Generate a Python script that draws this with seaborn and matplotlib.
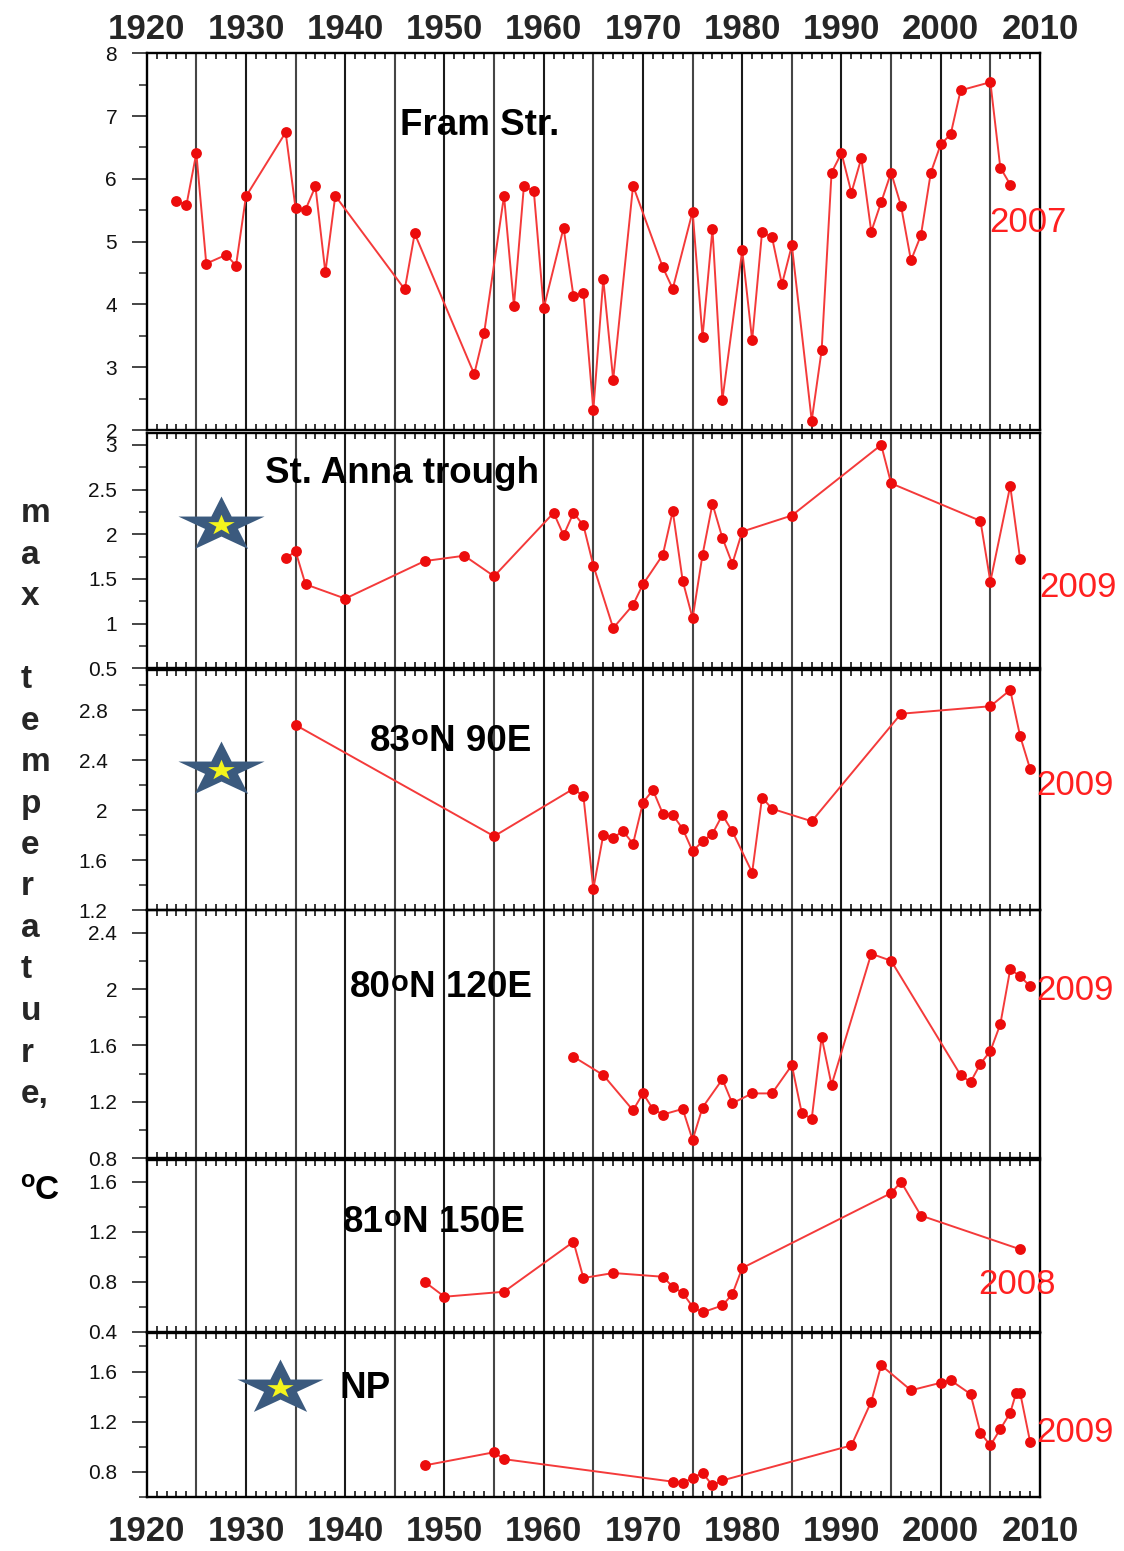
import matplotlib
matplotlib.use("Agg")
import matplotlib.pyplot as plt
from matplotlib.path import Path
from matplotlib.ticker import MultipleLocator, FixedLocator, FuncFormatter
import seaborn as sns

# ---- data: maximum Atlantic-water temperature (deg C) by year ----
fram_years = [1923, 1924, 1925, 1926, 1928, 1929, 1930, 1934, 1935, 1936, 1937, 1938, 1939,
              1946, 1947, 1953, 1954, 1956, 1957, 1958, 1959, 1960, 1962, 1963, 1964, 1965,
              1966, 1967, 1969, 1972, 1973, 1975, 1976, 1977, 1978, 1980, 1981, 1982, 1983,
              1984, 1985, 1987, 1988, 1989, 1990, 1991, 1992, 1993, 1994, 1995, 1996, 1997,
              1998, 1999, 2000, 2001, 2002, 2005, 2006, 2007]
fram_temp = [5.65, 5.58, 6.41, 4.65, 4.79, 4.62, 5.72, 6.74, 5.53, 5.51, 5.88, 4.51, 5.73,
             4.24, 5.13, 2.89, 3.55, 5.73, 3.98, 5.88, 5.81, 3.94, 5.22, 4.13, 4.19, 2.32,
             4.40, 2.80, 5.89, 4.59, 4.25, 5.48, 3.48, 5.20, 2.48, 4.86, 3.43, 5.16, 5.07,
             4.32, 4.94, 2.15, 3.27, 6.10, 6.41, 5.78, 6.33, 5.16, 5.63, 6.10, 5.57, 4.70,
             5.10, 6.10, 6.55, 6.71, 7.41, 7.54, 6.18, 5.91]

anna_years = [1934, 1935, 1936, 1940, 1948, 1952, 1955, 1961, 1962, 1963, 1964, 1965, 1967,
              1969, 1970, 1972, 1973, 1974, 1975, 1976, 1977, 1978, 1979, 1980, 1985, 1994,
              1995, 2004, 2005, 2007, 2008]
anna_temp = [1.73, 1.81, 1.44, 1.28, 1.70, 1.76, 1.53, 2.24, 1.99, 2.24, 2.10, 1.65, 0.95,
             1.21, 1.44, 1.77, 2.26, 1.48, 1.06, 1.77, 2.34, 1.96, 1.67, 2.03, 2.21, 3.00,
             2.57, 2.15, 1.47, 2.54, 1.72]

n83_years = [1935, 1955, 1963, 1964, 1965, 1966, 1967, 1968, 1969, 1970, 1971, 1972, 1973,
             1974, 1975, 1976, 1977, 1978, 1979, 1981, 1982, 1983, 1987, 1996, 2005, 2007,
             2008, 2009]
n83_temp = [2.68, 1.79, 2.17, 2.11, 1.37, 1.80, 1.78, 1.83, 1.73, 2.06, 2.16, 1.97, 1.96,
            1.85, 1.67, 1.75, 1.81, 1.96, 1.83, 1.50, 2.10, 2.01, 1.91, 2.77, 2.83, 2.96,
            2.59, 2.33]

n80_years = [1963, 1966, 1969, 1970, 1971, 1972, 1974, 1975, 1976, 1978, 1979, 1981, 1983,
             1985, 1986, 1987, 1988, 1989, 1993, 1995, 2002, 2003, 2004, 2005, 2006, 2007,
             2008, 2009]
n80_temp = [1.52, 1.39, 1.14, 1.26, 1.15, 1.11, 1.15, 0.93, 1.16, 1.36, 1.19, 1.26, 1.26,
            1.46, 1.12, 1.08, 1.66, 1.32, 2.25, 2.20, 1.39, 1.34, 1.47, 1.56, 1.75, 2.14,
            2.09, 2.02]

n81_years = [1948, 1950, 1956, 1963, 1964, 1967, 1972, 1973, 1974, 1975, 1976, 1978, 1979,
             1980, 1995, 1996, 1998, 2008]
n81_temp = [0.80, 0.68, 0.72, 1.12, 0.83, 0.87, 0.84, 0.76, 0.71, 0.60, 0.555, 0.61, 0.70,
            0.91, 1.51, 1.60, 1.33, 1.06]

np_years = [1948, 1955, 1956, 1973, 1974, 1975, 1976, 1977, 1978, 1991, 1993, 1994, 1997,
            2000, 2001, 2003, 2004, 2005, 2006, 2007, 2007.6, 2008, 2009]
np_temp = [0.85, 0.955, 0.90, 0.72, 0.71, 0.75, 0.79, 0.69, 0.73, 1.01, 1.36, 1.65, 1.45,
           1.51, 1.53, 1.42, 1.11, 1.01, 1.14, 1.27, 1.43, 1.43, 1.04]

decade_labels = list(range(1920, 2011, 10))
last_year_labels = ["2007", "2009", "2009", "2009", "2008", "2009"]

# ---- styling ----
sns.set_style("white")
plt.rcParams["font.family"] = ["Liberation Sans", "DejaVu Sans"]

W, H = 1124, 1551
fig = plt.figure(figsize=(W / 100, H / 100), dpi=100)
fig.patch.set_facecolor("white")
renderer = fig.canvas.get_renderer()

LINE_RED = "#f43a3a"
DOT_RED = "#ec0c0c"
TXT_RED = "#ff2020"
STAR_BLUE = "#3b5a7e"
STAR_YELLOW = "#f4f41c"

X0, X1 = 146.7, 1040.0


def fx(px):
    return px / W


def fy(py):
    return 1 - py / H


# flattened five-pointed star used as a station symbol
_base = Path.unit_regular_star(5, 0.381966)
_v = _base.vertices.copy()
_v[:, 1] *= 0.64
star_outer = Path(_v, _base.codes)
_v2 = _base.vertices.copy()
_v2[:, 1] *= 0.78
star_inner = Path(_v2, _base.codes)

# panel specs: (years, temps, top px, bottom px, ylim, major ticks, minor step, label pad)
panels = [
    (fram_years, fram_temp, 53.3, 430.0, (2, 8), [2, 3, 4, 5, 6, 7, 8], 0.5, 10.5),
    (anna_years, anna_temp, 433.3, 668.3, (0.5, 3.13), [0.5, 1, 1.5, 2, 2.5, 3], 0.25, 10.5),
    (n83_years, n83_temp, 670.0, 910.0, (1.2, 3.12), [1.2, 1.6, 2.0, 2.4, 2.8], 0.2, 17.5),
    (n80_years, n80_temp, 910.0, 1158.3, (0.8, 2.56), [0.8, 1.2, 1.6, 2.0, 2.4], 0.2, 10.5),
    (n81_years, n81_temp, 1160.0, 1331.7, (0.4, 1.775), [0.4, 0.8, 1.2, 1.6], 0.2, 10.5),
    (np_years, np_temp, 1332.7, 1496.7, (0.6, 1.91), [0.8, 1.2, 1.6], 0.2, 10.5),
]

axes = []
for i, (yrs, temps, top, bot, ylim, majors, mstep, pad) in enumerate(panels):
    ax = fig.add_axes([fx(X0), fy(bot), fx(X1 - X0), (bot - top) / H])
    axes.append(ax)
    ax.set_facecolor("none")

    # vertical reference lines every five years
    for yr in range(1925, 2010, 5):
        ax.axvline(yr, color="#1a1a1a" if yr % 10 == 0 else "#454545",
                   lw=1.5, zorder=1)

    sns.lineplot(x=yrs, y=temps, ax=ax, color=LINE_RED, linewidth=1.4,
                 marker="o", markersize=7.8, markerfacecolor=DOT_RED,
                 markeredgecolor=DOT_RED, markeredgewidth=0,
                 estimator=None, sort=False, legend=False, zorder=3)

    ax.set_xlim(1920, 2010)
    ax.set_ylim(*ylim)
    ax.set_xlabel("")
    ax.set_ylabel("")

    for sp in ax.spines.values():
        sp.set_linewidth(1.7)
        sp.set_color("black")
        sp.set_zorder(5)

    ax.xaxis.set_major_locator(FixedLocator(decade_labels))
    ax.xaxis.set_minor_locator(FixedLocator([y for y in range(1921, 2010) if y % 5]))
    ax.tick_params(axis="x", which="major", length=0, top=True, bottom=True,
                   labeltop=False, labelbottom=False)
    ax.tick_params(axis="x", which="minor", direction="in", length=4, width=1.1,
                   top=True, bottom=True, color="black")

    ax.yaxis.set_major_locator(FixedLocator(majors))
    ax.yaxis.set_minor_locator(MultipleLocator(mstep))
    ax.yaxis.set_major_formatter(FuncFormatter(lambda v, p: f"{v:g}"))
    ax.tick_params(axis="y", which="major", direction="out", length=10.8, width=1.2,
                   labelsize=15, pad=pad, left=True, right=False, labelcolor="#111111")
    ax.tick_params(axis="y", which="minor", direction="out", length=5.8, width=1.1,
                   left=True, right=False)

# decade labels above the first panel and below the last one
axes[0].xaxis.set_major_formatter(FuncFormatter(lambda v, p: f"{int(v)}"))
axes[0].tick_params(axis="x", which="major", labeltop=True, labelsize=25, pad=5)
axes[-1].xaxis.set_major_formatter(FuncFormatter(lambda v, p: f"{int(v)}"))
axes[-1].tick_params(axis="x", which="major", labelbottom=True, labelsize=25, pad=13)
for ax in (axes[0], axes[-1]):
    for lab in ax.get_xticklabels():
        lab.set_fontweight("bold")

# station symbols
for ax, sx, sy in ((axes[1], 1927.45, 2.108), (axes[2], 1927.45, 2.32), (axes[5], 1933.4, 1.47)):
    ax.plot([sx], [sy], marker=star_outer, ms=62, color=STAR_BLUE, linestyle="none",
            markeredgewidth=0, zorder=6, clip_on=False)
    ax.plot([sx], [sy - 0.002], marker=star_inner, ms=19, color=STAR_YELLOW, linestyle="none",
            markeredgewidth=0, zorder=7, clip_on=False)


def run_text(x_px, pieces, color="black"):
    """Draw consecutive text pieces on one line, each with its own size and baseline."""
    x = x_px
    for s, size, base, weight in pieces:
        t = fig.text(fx(x), fy(base), s, fontsize=size, fontweight=weight,
                     ha="left", va="baseline", color=color)
        x = t.get_window_extent(renderer).x1


# station names
run_text(400, [("Fram Str.", 26.5, 135, "bold")])
run_text(265, [("St. Anna trough", 26.5, 483, "bold")])
run_text(370, [("83", 26.5, 751, "bold"), ("o", 21, 745, "bold"), ("N 90E", 26.5, 751, "bold")])
run_text(350, [("80", 26.5, 997, "bold"), ("o", 21, 991, "bold"), ("N 120E", 26.5, 997, "bold")])
run_text(343, [("81", 26.5, 1232, "bold"), ("o", 21, 1226, "bold"), ("N 150E", 26.5, 1232, "bold")])
run_text(340, [("NP", 26.5, 1398, "bold")])

# last-year annotations
for label, (lx, lb) in zip(last_year_labels,
                           [(989, 232), (1039, 597), (1036, 795), (1036, 1000),
                            (978, 1294), (1036, 1442)]):
    fig.text(fx(lx), fy(lb), label, fontsize=25, color=TXT_RED, ha="left", va="baseline")

# vertical axis title written as stacked letters
ylabel_lines = ["m", "a", "x", "", "t", "e", "m", "p", "e", "r", "a", "t", "u", "r", "e,"]
for k, ch in enumerate(ylabel_lines):
    if ch:
        fig.text(fx(21), fy(522 + k * 41.5), ch, fontsize=24, fontweight="bold",
                 ha="left", va="baseline")
run_text(20, [("o", 17, 1187, "bold"), ("C", 24, 1199, "bold")])

fig.savefig("out.png", dpi=100, facecolor="white")
